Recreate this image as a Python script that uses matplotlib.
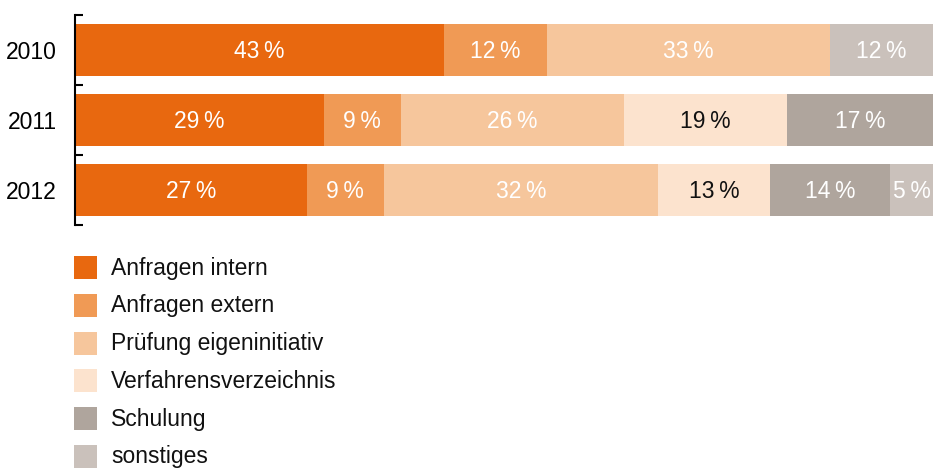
import matplotlib
matplotlib.use("Agg")
import matplotlib.pyplot as plt
from matplotlib.patches import Rectangle
import numpy as np

plt.rcParams.update({"font.family": ["Liberation Sans", "DejaVu Sans"], "font.size": 16.5})

# ── Data ────────────────────────────────────────────────────────────────────
years = ["2010", "2011", "2012"]
categories = ["Anfragen intern", "Anfragen extern", "Prüfung eigeninitiativ",
              "Verfahrensverzeichnis", "Schulung", "sonstiges"]
anfragen_intern = [43, 29, 27]
anfragen_extern = [12, 9, 9]
pruefung = [33, 26, 32]
verfahren = [0, 19, 13]
schulung = [0, 17, 14]
sonstiges = [12, 0, 5]
series = [anfragen_intern, anfragen_extern, pruefung, verfahren, schulung, sonstiges]

colors = ["#E8680F", "#F09A55", "#F6C69C", "#FCE3CE", "#AFA59D", "#CAC1BB"]
label_colors = ["white", "white", "white", "#111111", "white", "white"]

# ── Chart ───────────────────────────────────────────────────────────────────
W, H = 933, 468
fig = plt.figure(figsize=(W / 100, H / 100), dpi=100)
ax = fig.add_axes([75 / W, 1 - 225 / H, 1 - 75 / W, 210 / H])

y = np.arange(len(years))
left = np.zeros(len(years))
for vals, col, tcol in zip(series, colors, label_colors):
    vals = np.array(vals, dtype=float)
    ax.barh(y, vals, left=left, height=0.757, color=col, linewidth=0)
    for yi, (l, v) in enumerate(zip(left, vals)):
        if v > 0:
            ax.text(l + v / 2, yi + 0.02, f"{int(v)}\u2009%", ha="center", va="center",
                    color=tcol, fontsize=16.5)
    left += vals

ax.set_xlim(0, 100)
ax.set_ylim(2.5, -0.5)
ax.set_yticks(y)
ax.set_yticklabels(years)
ax.tick_params(axis="y", which="major", length=0, pad=13, labelsize=16.5)
ax.set_yticks([-0.5, 0.5, 1.5, 2.5], minor=True)
ax.tick_params(axis="y", which="minor", direction="in", length=6, width=1.5)
ax.set_xticks([])
for s in ["top", "right", "bottom"]:
    ax.spines[s].set_visible(False)
ax.spines["left"].set_linewidth(1.5)

# ── Legend ──────────────────────────────────────────────────────────────────
for i, (name, col) in enumerate(zip(categories, colors)):
    top = 256 + i * 37.8
    fig.add_artist(Rectangle((74 / W, 1 - (top + 23) / H), 23 / W, 23 / H,
                             transform=fig.transFigure, color=col, linewidth=0))
    fig.text(111 / W, 1 - (top + 12) / H, name, ha="left", va="center",
             fontsize=16.5, color="#111111")

fig.savefig("out.png", dpi=100)
